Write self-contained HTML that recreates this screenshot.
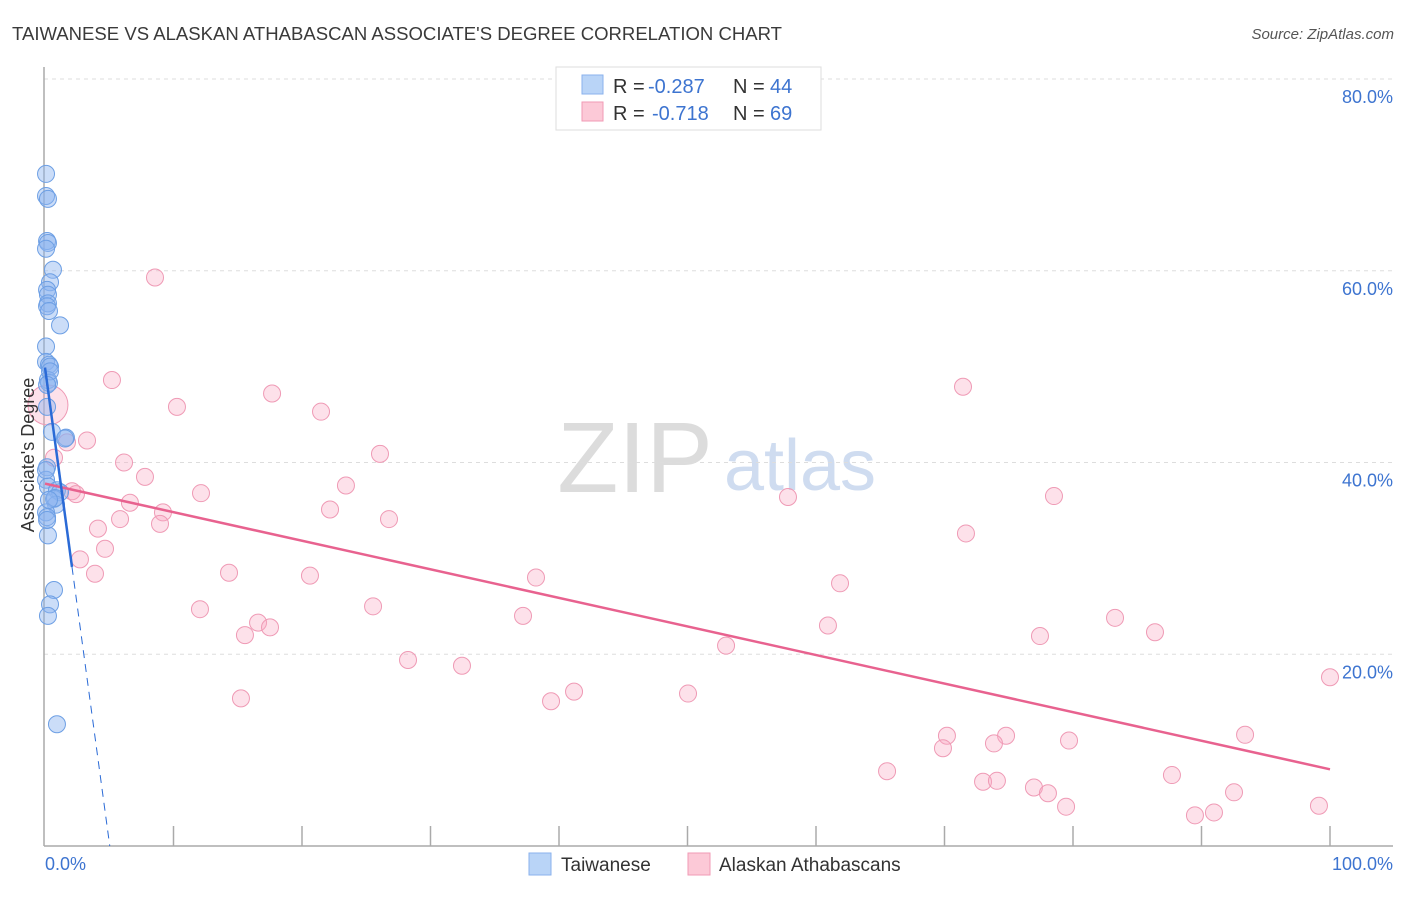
<!DOCTYPE html>
<html><head><meta charset="utf-8"><style>
body{margin:0;background:#fff;font-family:"Liberation Sans",sans-serif;}
svg text{font-family:"Liberation Sans",sans-serif;}
</style></head><body>
<svg id="chart" width="1406" height="892" xmlns="http://www.w3.org/2000/svg">
<text x="12" y="40" font-size="18" fill="#3a3a3a" textLength="770" lengthAdjust="spacingAndGlyphs">TAIWANESE VS ALASKAN ATHABASCAN ASSOCIATE'S DEGREE CORRELATION CHART</text>
<text x="1394" y="39" font-size="15" fill="#555" font-style="italic" text-anchor="end">Source: ZipAtlas.com</text>
<g>
<text x="635" y="492" font-size="100" fill="#dcdcdc" font-family="Liberation Serif" text-anchor="middle">ZIP</text>
<text x="800" y="490" font-size="72" fill="#cfdcf0" text-anchor="middle">atlas</text>
</g>
<g id="grid"></g>
<g id="axes"></g>
<g id="pts"></g>
<g id="lines"></g>
<text transform="translate(34,455) rotate(-90)" font-size="18" fill="#333" text-anchor="middle">Associate's Degree</text>
<text x="45" y="870" font-size="18" fill="#3d74d0">0.0%</text>
<text x="1393" y="870" font-size="18" fill="#3d74d0" text-anchor="end">100.0%</text>
<g>
<rect x="556" y="67" width="265" height="63" fill="#fff" stroke="#ddd"/>
<rect x="582" y="75" width="21" height="19" fill="#b9d4f7" stroke="#8ab2ec"/>
<rect x="582" y="102" width="21" height="19" fill="#fcc9d7" stroke="#f19ab4"/>
<text x="613" y="93" font-size="20" fill="#333">R =</text>
<text x="648" y="93" font-size="20" fill="#3d74d0">-0.287</text>
<text x="733" y="93" font-size="20" fill="#333">N =</text>
<text x="770" y="93" font-size="20" fill="#3d74d0">44</text>
<text x="613" y="120" font-size="20" fill="#333">R =</text>
<text x="652" y="120" font-size="20" fill="#3d74d0">-0.718</text>
<text x="733" y="120" font-size="20" fill="#333">N =</text>
<text x="770" y="120" font-size="20" fill="#3d74d0">69</text>
</g>
<g>
<rect x="529" y="853" width="22" height="22" fill="#b9d4f7" stroke="#8ab2ec"/>
<text x="561" y="871" font-size="19" fill="#333">Taiwanese</text>
<rect x="688" y="853" width="22" height="22" fill="#fcc9d7" stroke="#f19ab4"/>
<text x="719" y="871" font-size="19" fill="#333">Alaskan Athabascans</text>
</g>
</svg>
<script>
const yTicks=[20,40,60,80];
const yTickLabels=["20.0%","40.0%","60.0%","80.0%"];
const xTicks=[10,20,30,40,50,60,70,80,90,100];
const blueX=[0.08,0.08,0.23,0.16,0.23,0.08,0.62,0.39,0.16,0.23,0.23,0.16,0.31,1.17,0.08,0.08,0.31,0.39,0.23,0.31,0.16,0.54,1.63,1.56,0.16,0.08,0.23,0.93,1.17,0.70,0.86,0.08,0.16,0.23,0.70,0.39,0.23,0.93,0.39,0.16,0.78,0.08,0.31,0.16];
const blueY=[70.1,67.8,67.5,63.1,62.9,62.3,60.1,58.8,58.0,57.5,56.6,56.3,55.8,54.3,52.1,50.5,50.2,50.0,48.6,48.3,45.8,43.2,42.6,42.5,39.5,38.2,37.5,37.1,36.9,36.2,35.6,34.8,34.3,32.4,26.7,25.2,24.0,12.7,49.5,48.1,36.3,39.2,36.1,34.0];
const pinkX=[8.56,5.21,10.27,17.67,21.48,71.44,1.71,3.27,26.07,0.70,6.15,7.78,23.42,2.10,2.41,12.14,6.61,57.82,78.52,22.18,9.18,5.84,26.77,8.95,4.12,71.67,4.67,2.72,3.89,14.32,20.62,38.21,61.87,25.53,12.06,37.2,83.27,16.58,17.51,60.93,15.56,86.38,77.43,53.0,28.25,32.45,100.0,41.17,50.04,15.25,39.38,93.39,70.19,74.79,73.85,79.69,69.88,65.53,87.7,73.0,74.08,76.96,78.05,79.46,92.53,99.14,89.49,90.97,0.23];
const pinkY=[59.3,48.6,45.8,47.2,45.3,47.9,42.1,42.3,40.9,40.5,40.0,38.5,37.6,37.0,36.7,36.8,35.8,36.4,36.5,35.1,34.8,34.1,34.1,33.6,33.1,32.6,31.0,29.9,28.4,28.5,28.2,28.0,27.4,25.0,24.7,24.0,23.8,23.3,22.8,23.0,22.0,22.3,21.9,20.9,19.4,18.8,17.6,16.1,15.9,15.4,15.1,11.6,11.5,11.5,10.7,11.0,10.2,7.8,7.4,6.7,6.8,6.1,5.5,4.1,5.6,4.2,3.2,3.5,46.0];
const pinkTrend=[37.8,8.0];
const blueTrend=[49.9,-9.9];
const NS="http://www.w3.org/2000/svg";
const X0=45,X1=1330,Y0=846,Y80=79;
const xs=v=>X0+(X1-X0)*v/100;
const ys=v=>Y0-(Y0-Y80)*v/80;
function mk(tag,attrs,parent){const e=document.createElementNS(NS,tag);for(const k in attrs)e.setAttribute(k,attrs[k]);document.getElementById(parent).appendChild(e);return e;}
yTicks.forEach((t,i)=>{
 const g=mk('line',{x1:44,x2:1393,y1:ys(t),y2:ys(t),stroke:'#ddd','stroke-dasharray':'4,4'},'grid');
 
 
 const l=mk('text',{x:1393,y:ys(t)+24,'font-size':18,fill:'#3d74d0','text-anchor':'end'},'grid');
 l.textContent=yTickLabels[i];
 
 
});
const ax=mk('line',{x1:44,x2:44,y1:67,y2:846,stroke:'#aaa','stroke-width':1.5},'axes');


const bx=mk('line',{x1:44,x2:1393,y1:846,y2:846,stroke:'#aaa','stroke-width':1.5},'axes');


xTicks.forEach(t=>{
 const k=mk('line',{x1:xs(t),x2:xs(t),y1:826,y2:846,stroke:'#aaa','stroke-width':1.5},'axes');
 
 
});
pinkX.forEach((x,i)=>{
 const r=i===pinkX.length-1?20:8.5;
 const c=mk('circle',{cx:xs(x),cy:ys(pinkY[i]),r:r,fill:'rgba(248,170,195,0.35)',stroke:'#ef9ab5','stroke-width':1},'pts');
 
 
});
blueX.forEach((x,i)=>{
 const c=mk('circle',{cx:xs(x),cy:ys(blueY[i]),r:8.5,fill:'rgba(140,180,240,0.45)',stroke:'#6d9fe4','stroke-width':1},'pts');
 
 
});
const pl=mk('line',{x1:xs(0),y1:ys(pinkTrend[0]),x2:xs(100),y2:ys(pinkTrend[1]),stroke:'#e8628f','stroke-width':2.5},'lines');


const bend=2.1, bzero=-blueTrend[0]/blueTrend[1];
const bl=mk('line',{x1:xs(0),y1:ys(blueTrend[0]),x2:xs(bend),y2:ys(blueTrend[0]+blueTrend[1]*bend),stroke:'#2a6ad6','stroke-width':2.5},'lines');


const bd=mk('line',{x1:xs(bend),y1:ys(blueTrend[0]+blueTrend[1]*bend),x2:xs(bzero),y2:ys(0),stroke:'#2a6ad6','stroke-width':1,'stroke-dasharray':'8,6'},'lines');


</script>
</body></html>
